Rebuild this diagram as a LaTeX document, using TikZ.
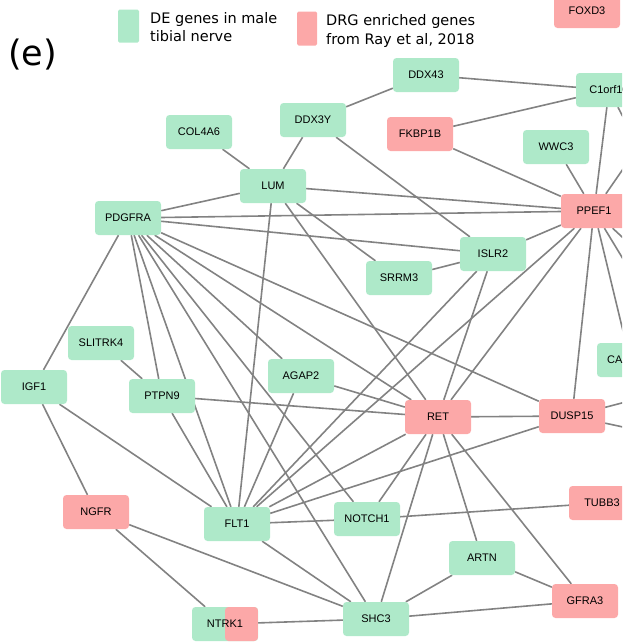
\documentclass[tikz,border=0pt]{standalone}
\usepackage{fontspec}
\setmainfont{Liberation Sans}
\newfontfamily\legendfont{DejaVu Sans}
\usetikzlibrary{backgrounds}
\definecolor{gnode}{HTML}{AEE9C9}
\definecolor{rnode}{HTML}{FCA8A8}
\definecolor{edgec}{HTML}{828282}
\begin{document}
\begin{tikzpicture}[x=1pt,y=-1pt,
  gene/.style={rectangle, rounded corners=3.5pt, minimum width=66pt, minimum height=34pt,
    inner sep=0pt, text height=7.9pt, text depth=0pt, font=\fontsize{11}{13}\selectfont},
  de/.style={gene, fill=gnode},
  drg/.style={gene, fill=rnode},
  link/.style={draw=edgec, line width=1.6pt},
  legtext/.style={inner sep=0pt, anchor=base west, font=\legendfont\fontsize{14.5}{18}\selectfont}
]
\useasboundingbox (0,0) rectangle (622,643);
\clip (0,0) rectangle (622,643);

% legend
\node[anchor=base west, inner sep=0pt, font=\legendfont\fontsize{35}{40}\selectfont] (label) at (8,65) {(e)};
\node[fill=gnode, minimum width=21pt, minimum height=33pt, inner sep=0pt, rounded corners=1.5pt] (legG) at (128.5,26) {};
\node[fill=rnode, minimum width=20pt, minimum height=34pt, inner sep=0pt, rounded corners=1.5pt] (legR) at (307,28.5) {};
\node[legtext] (legG1) at (150,23) {DE genes in male};
\node[legtext] (legG2) at (150,41) {tibial nerve};
\node[legtext] (legR1) at (326,25.5) {DRG enriched genes};
\node[legtext] (legR2) at (326,44) {from Ray et al, 2018};

% nodes
\node[drg] (FOXD3) at (587,11) {FOXD3};
\node[de] (DDX43) at (426,75) {DDX43};
\node[de] (C1orf10) at (609,90) {C1orf10};
\node[de] (DDX3Y) at (313,120) {DDX3Y};
\node[drg] (FKBP1B) at (420,134) {FKBP1B};
\node[de] (COL4A6) at (199,132) {COL4A6};
\node[de] (WWC3) at (556,147) {WWC3};
\node[de] (LUM) at (273,186) {LUM};
\node[de] (PDGFRA) at (128,218) {PDGFRA};
\node[drg] (PPEF1) at (594,211) {PPEF1};
\node[de] (ISLR2) at (493,254) {ISLR2};
\node[de] (SRRM3) at (399,278) {SRRM3};
\node[de] (SLITRK4) at (101,343) {SLITRK4};
\node[de] (CA) at (630,360) {};
\node[inner sep=0pt, anchor=west, text height=7.9pt, text depth=0pt, font=\fontsize{11}{13}\selectfont] (CAtext) at (607,360) {CA};
\node[de] (IGF1) at (34,387) {IGF1};
\node[de] (AGAP2) at (301,376) {AGAP2};
\node[de] (PTPN9) at (162,396) {PTPN9};
\node[drg] (RET) at (438,417) {RET};
\node[drg] (DUSP15) at (572,416) {DUSP15};
\node[drg] (NGFR) at (96,512) {NGFR};
\node[drg] (TUBB3) at (602,503) {TUBB3};
\node[de] (FLT1) at (237,524) {FLT1};
\node[de] (NOTCH1) at (367,519) {NOTCH1};
\node[de] (ARTN) at (482,558) {ARTN};
\node[drg] (GFRA3) at (585,601) {GFRA3};
\node[de] (SHC3) at (376,619) {SHC3};
\node[de, path picture={\fill[rnode] (path picture bounding box.north) rectangle (path picture bounding box.south east);}] (NTRK1) at (225,624) {NTRK1};

% free ends of connectors leaving the picture
\coordinate (c1out) at (660,188);
\coordinate (ppout1) at (650,130);
\coordinate (ppout2) at (660,320);
\coordinate (ppout3) at (660,272);
\coordinate (duout1) at (660,393);
\coordinate (duout2) at (660,435);

\begin{scope}[on background layer]
\clip (0,0) rectangle (622,643);
\foreach \a/\b in {DDX43/C1orf10, DDX43/DDX3Y, C1orf10/FKBP1B, C1orf10/PPEF1, FKBP1B/PPEF1,
  WWC3/PPEF1, DDX3Y/LUM, DDX3Y/ISLR2, COL4A6/LUM, LUM/PDGFRA, LUM/PPEF1, LUM/SRRM3, LUM/RET,
  LUM/FLT1, PDGFRA/PPEF1, PDGFRA/ISLR2, PDGFRA/IGF1, PDGFRA/PTPN9, PDGFRA/FLT1, PDGFRA/SHC3,
  PDGFRA/NOTCH1, PDGFRA/AGAP2, PDGFRA/RET, PDGFRA/DUSP15, ISLR2/SRRM3, ISLR2/PPEF1, ISLR2/RET,
  ISLR2/FLT1, PPEF1/RET, PPEF1/FLT1, PPEF1/DUSP15, PPEF1/CA, SLITRK4/PTPN9, IGF1/FLT1, IGF1/NGFR,
  AGAP2/RET, AGAP2/FLT1, PTPN9/RET, PTPN9/FLT1, RET/DUSP15, RET/FLT1, RET/NOTCH1, RET/SHC3,
  RET/ARTN, RET/GFRA3, DUSP15/FLT1, FLT1/NOTCH1, FLT1/SHC3, NOTCH1/TUBB3, NGFR/NTRK1, NGFR/SHC3,
  NTRK1/SHC3, SHC3/ARTN, SHC3/GFRA3, ARTN/GFRA3,
  C1orf10/c1out, PPEF1/ppout1, PPEF1/ppout2, PPEF1/ppout3, DUSP15/duout1, DUSP15/duout2}
  {\draw[link] (\a) -- (\b);}
\end{scope}
\end{tikzpicture}
\end{document}
